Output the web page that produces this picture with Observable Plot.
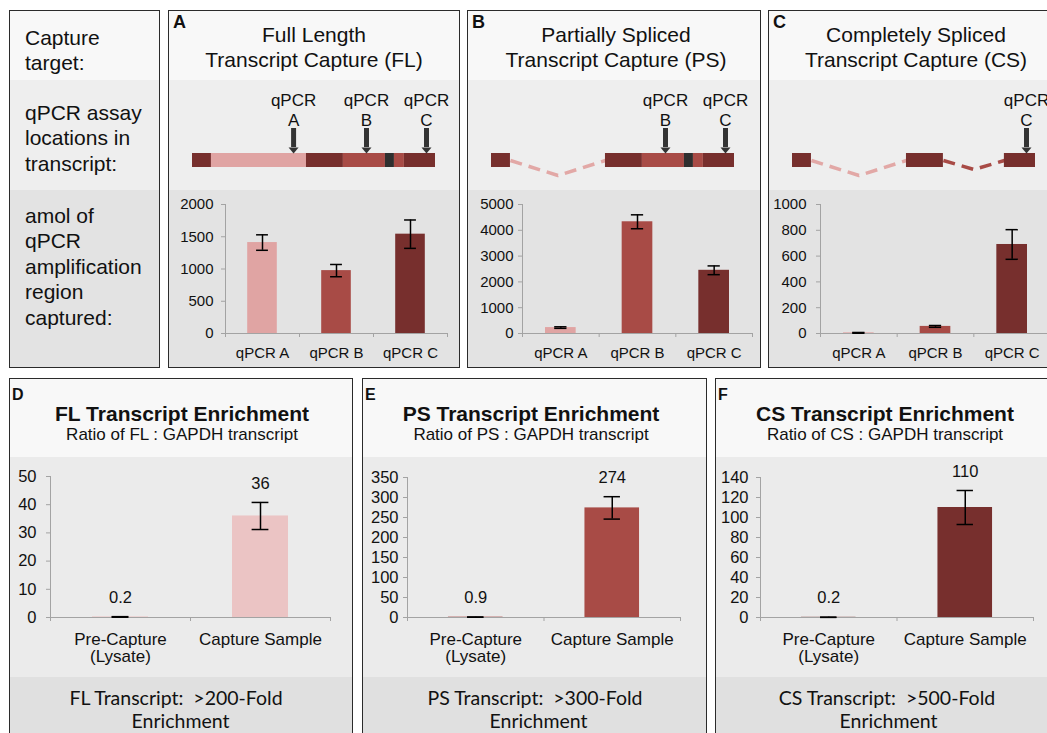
<!DOCTYPE html>
<html>
<head>
<meta charset="utf-8">
<title>Transcript capture and enrichment</title>
<script src="https://cdn.jsdelivr.net/npm/d3@7"></script>
<script src="https://cdn.jsdelivr.net/npm/@observablehq/plot@0.6"></script>
<style>
  html, body { margin: 0; padding: 0; }
  body { position: relative; width: 1047px; height: 733px; overflow: hidden; background: #fff;
         font-family: "Liberation Sans", Arial, sans-serif; color: #111; }
  .abs { position: absolute; }
  .abs svg { max-width: none !important; display: block; }
  .frame { position: absolute; box-sizing: border-box; border: 1.5px solid #2b2b2b; }
  .txt { position: absolute; white-space: pre; line-height: 1; }
</style>
</head>
<body>
<script>
// ---------------- data ----------------
// amol of each qPCR amplification region captured (mean and error)
const assays = ["qPCR A", "qPCR B", "qPCR C"];
const flAmol = [1410, 975, 1540];
const flAmolErr = [120, 95, 220];
const psAmol = [230, 4330, 2450];
const psAmolErr = [30, 270, 170];
const csAmol = [5, 55, 690];
const csAmolErr = [3, 7, 115];
const flAmolTicks = [0, 500, 1000, 1500, 2000];
const psAmolTicks = [0, 1000, 2000, 3000, 4000, 5000];
const csAmolTicks = [0, 200, 400, 600, 800, 1000];

// ratio of target transcript to GAPDH, before and after capture
const samples = ["Pre-Capture\n(Lysate)", "Capture Sample"];
const flRatio = [0.2, 36];
const flRatioErr = [0.1, 4.8];
const psRatio = [0.9, 274];
const psRatioErr = [0.3, 28];
const csRatio = [0.2, 110];
const csRatioErr = [0.1, 17];
const flRatioTicks = [0, 10, 20, 30, 40, 50];
const psRatioTicks = [0, 50, 100, 150, 200, 250, 300, 350];
const csRatioTicks = [0, 20, 40, 60, 80, 100, 120, 140];

// transcript model: regions in % of the full-length transcript
const segKind  = ["exon", "intron1", "exon", "intron2", "marker", "intron2", "exon"];
const segStart = [0, 7.8, 46.9, 62.1, 79.4, 83.1, 87.2];
const segEnd   = [7.8, 46.9, 62.1, 79.4, 83.1, 87.2, 100];
const segIntron = [0, 1, 0, 2, 2, 2, 0];          // 0 = exon
const intronIds = [1, 2];
const intronStart = [7.8, 62.1];
const intronEnd = [46.9, 87.2];
const assayIds = ["A", "B", "C"];
const assayPos = [41.6, 71.6, 96.3];

// capture targets: introns retained and assays located in them
const retainedFL = [1, 2], retainedPS = [2], retainedCS = [];
const shownFL = ["A", "B", "C"], shownPS = ["B", "C"], shownCS = ["C"];

// ---------------- styling ----------------
const SANS = '"Liberation Sans", Arial, sans-serif';
const SOFT = 'Lato, "Open Sans", sans-serif';
const PINK = "#e0a4a3", RED = "#a84b46", MAROON = "#772f2d", PALE = "#ebc4c4", MARKER = "#2f2f2f";
const AXIS = "#a3a3a3";
const SEG_COLOR = {exon: MAROON, intron1: PINK, intron2: RED, marker: MARKER};
const INTRON_COLOR = {1: "#e2a8a6", 2: RED};
const DIP = {1: 15, 2: 9};

function box(x, y, w, h, bg) {
  const d = document.createElement("div");
  d.className = "abs";
  Object.assign(d.style, {left: x + "px", top: y + "px", width: w + "px", height: h + "px", background: bg});
  document.body.appendChild(d);
  return d;
}
function frame(x, y, w, h) {
  const d = document.createElement("div");
  d.className = "frame";
  Object.assign(d.style, {left: x + "px", top: y + "px", width: w + "px", height: h + "px"});
  document.body.appendChild(d);
}
// baseline-anchored text; k = baseline offset below line centre in ems
function text(str, {x, baseline, size = 21, weight = "normal", align = "left", lh = 1.2, font = SANS, k = 0.3465}) {
  const L = lh * size;
  const d = document.createElement("div");
  d.className = "txt";
  d.textContent = str;
  Object.assign(d.style, {
    left: x + "px", top: (baseline - L / 2 - k * size) + "px",
    fontSize: size + "px", lineHeight: L + "px", fontWeight: weight, fontFamily: font,
    textAlign: align, transform: align === "center" ? "translateX(-50%)" : "none", color: "#111"
  });
  document.body.appendChild(d);
}
function place(node, x, y, w, h) {
  const d = document.createElement("div");
  d.className = "abs";
  Object.assign(d.style, {left: x + "px", top: y + "px", width: w + "px", height: h + "px"});
  d.appendChild(node);
  document.body.appendChild(d);
}

const arrowHead = {
  draw(context, size) {
    const r = Math.sqrt(size / Math.PI);
    context.moveTo(-r, -1.2 * r);
    context.lineTo(r, -1.2 * r);
    context.lineTo(0, 0);
    context.closePath();
  }
};

function transcriptDiagram(retained, shownIds, width) {
  const segs = segKind.map((kind, i) => ({kind, start: segStart[i], end: segEnd[i], intron: segIntron[i]}))
    .filter(d => d.intron === 0 || retained.includes(d.intron));
  const spliced = intronIds.filter(id => !retained.includes(id)).flatMap(id => {
    const s = intronStart[id - 1], e = intronEnd[id - 1];
    return [{id, x: s, y: 0}, {id, x: (s + e) / 2, y: -DIP[id]}, {id, x: e, y: 0}];
  });
  const shown = assayIds.map((id, i) => ({id, pos: assayPos[i]})).filter(d => shownIds.includes(d.id));
  return Plot.plot({
    width, height: 110, margin: 0,
    style: {background: "none", overflow: "visible", fontFamily: SANS, maxWidth: "none"},
    x: {domain: [0, 100], range: [24, 267], axis: null},
    y: {domain: [-30, 80], range: [110, 0], axis: null},
    color: {type: "identity"},
    marks: [
      Plot.line(spliced, {x: "x", y: "y", z: "id", stroke: d => INTRON_COLOR[d.id], strokeWidth: 3.5,
                          strokeDasharray: "12,7", strokeLinecap: "butt"}),
      Plot.rect(segs, {x1: "start", x2: "end", y1: -7, y2: 7, fill: d => SEG_COLOR[d.kind]}),
      Plot.ruleX(shown, {x: "pos", y1: 13, y2: 32, stroke: "#333", strokeWidth: 5}),
      Plot.dot(shown, {x: "pos", y: 7, r: 5, symbol: arrowHead, fill: "#333"}),
      Plot.text(shown, {x: "pos", y: 32, text: d => `qPCR\n${d.id}`, lineAnchor: "bottom", dy: -3,
                        fontSize: 17, lineHeight: 1.12, fill: "#111"})
    ]
  });
}

function barChart(o) {
  const n = o.cats.length;
  const rows = o.cats.map((cat, i) => ({i, cat, v: o.values[i], e: o.errs[i], color: o.colors[i]}));
  const yMax = o.ticks[o.ticks.length - 1];
  const marks = [
    Plot.rectY(rows, {x1: d => d.i + 0.3, x2: d => d.i + 0.7, y: "v", fill: d => d.color}),
    Plot.ruleX([0], {stroke: AXIS}),
    Plot.ruleY([0], {stroke: AXIS}),
    Plot.axisY({ticks: o.ticks, tickSize: 4, tickPadding: o.tickPad, tickFormat: d3.format("d"),
                stroke: AXIS, fill: "#111", fontSize: o.tickFont, label: null}),
    Plot.axisX({ticks: d3.range(n + 1), tickSize: 4, tickFormat: () => "", stroke: AXIS, label: null}),
    Plot.axisX({ticks: rows.map(d => d.i + 0.5), tickSize: 0, tickPadding: o.catPad,
                tickFormat: t => o.cats[Math.floor(t)], fill: "#111", fontSize: o.catFont, label: null}),
    Plot.ruleX(rows, {x: d => d.i + 0.5, y1: d => Math.max(0, d.v - d.e), y2: d => d.v + d.e, stroke: "#000", strokeWidth: 1.5}),
    Plot.ruleY(rows, {y: d => d.v + d.e, x1: d => d.i + 0.5 - o.cap, x2: d => d.i + 0.5 + o.cap, stroke: "#000", strokeWidth: 1.5}),
    Plot.ruleY(rows, {y: d => Math.max(0, d.v - d.e), x1: d => d.i + 0.5 - o.cap, x2: d => d.i + 0.5 + o.cap, stroke: "#000", strokeWidth: 1.5})
  ];
  if (o.valueLabels) {
    marks.push(Plot.text(rows, {x: d => d.i + 0.5, y: d => d.v + d.e, text: d => String(d.v), dy: o.labelDy,
                                fontSize: o.labelFont, fill: "#111"}));
  }
  return Plot.plot({
    width: o.width, height: o.height,
    marginTop: o.m[0], marginRight: o.m[1], marginBottom: o.m[2], marginLeft: o.m[3],
    style: {background: "none", overflow: "visible", fontFamily: SANS, maxWidth: "none"},
    x: {domain: [0, n]},
    y: {domain: [0, yMax]},
    color: {type: "identity"},
    marks
  });
}

// ---------------- layout ----------------
const TOP = {y0: 10, t1: 80, t2: 190, y1: 368};
const BOT = {y0: 378, t1: 457, t2: 677, y1: 748};
const panelsTop = [
  {x: 9, w: 151}, {x: 168, w: 292}, {x: 467, w: 294}, {x: 768, w: 292}
];
const panelsBot = [{x: 9, w: 344}, {x: 362, w: 345}, {x: 715, w: 340}];

// background bands
panelsTop.forEach(p => {
  box(p.x, TOP.y0, p.w, TOP.t1 - TOP.y0, "#f8f8f8");
  box(p.x, TOP.t1, p.w, TOP.t2 - TOP.t1, "#eeeeee");
  box(p.x, TOP.t2, p.w, TOP.y1 - TOP.t2, "#e3e3e3");
});
panelsBot.forEach(p => {
  box(p.x, BOT.y0, p.w, BOT.t1 - BOT.y0, "#f8f8f8");
  box(p.x, BOT.t1, p.w, BOT.t2 - BOT.t1, "#ebebeb");
  box(p.x, BOT.t2, p.w, BOT.y1 - BOT.t2, "#e0e0e0");
});

// row labels
text("Capture\ntarget:", {x: 25, baseline: 45, size: 21, lh: 25.5 / 21});
text("qPCR assay\nlocations in\ntranscript:", {x: 25, baseline: 120, size: 21, lh: 25.5 / 21});
text("amol of\nqPCR\namplification\nregion\ncaptured:", {x: 25, baseline: 223, size: 21, lh: 25.5 / 21});

// top row: capture targets
const topSpecs = [
  {p: panelsTop[1], letter: "A", title: "Full Length\nTranscript Capture (FL)", cx: 314,
   retained: retainedFL, shown: shownFL, values: flAmol, errs: flAmolErr, ticks: flAmolTicks, m: [14, 13, 35, 57], tickPad: 8},
  {p: panelsTop[2], letter: "B", title: "Partially Spliced\nTranscript Capture (PS)", cx: 616,
   retained: retainedPS, shown: shownPS, values: psAmol, errs: psAmolErr, ticks: psAmolTicks, m: [14, 9, 35, 55], tickPad: 5},
  {p: panelsTop[3], letter: "C", title: "Completely Spliced\nTranscript Capture (CS)", cx: 916,
   retained: retainedCS, shown: shownCS, values: csAmol, errs: csAmolErr, ticks: csAmolTicks, m: [14, 10, 35, 52], tickPad: 10}
];
topSpecs.forEach(s => {
  text(s.letter, {x: s.p.x + 5, baseline: 29, size: 18, weight: "bold"});
  text(s.title, {x: s.cx, baseline: 42, size: 21, lh: 25 / 21, align: "center"});
  place(transcriptDiagram(s.retained, s.shown, s.p.w), s.p.x, TOP.t1, s.p.w, TOP.t2 - TOP.t1);
  place(barChart({cats: assays, values: s.values, errs: s.errs, colors: [PINK, RED, MAROON], ticks: s.ticks,
                  width: s.p.w, height: TOP.y1 - TOP.t2, m: s.m, cap: 0.08, tickFont: 15, tickPad: s.tickPad,
                  catFont: 15, catPad: 14}), s.p.x, TOP.t2, s.p.w, TOP.y1 - TOP.t2);
});

// bottom row: enrichment
const botSpecs = [
  {p: panelsBot[0], letter: "D", title: "FL Transcript Enrichment", sub: "Ratio of FL : GAPDH transcript", cx: 182,
   foot1: "FL Transcript:  >200-Fold", f1: 176, f2: 180.5, values: flRatio, errs: flRatioErr, ticks: flRatioTicks,
   color: PALE, m: [19, 23, 60, 41], tickPad: 10},
  {p: panelsBot[1], letter: "E", title: "PS Transcript Enrichment", sub: "Ratio of PS : GAPDH transcript", cx: 531,
   foot1: "PS Transcript:  >300-Fold", f1: 535, f2: 538.5, values: psRatio, errs: psRatioErr, ticks: psRatioTicks,
   color: RED, m: [20, 27, 60, 45], tickPad: 5},
  {p: panelsBot[2], letter: "F", title: "CS Transcript Enrichment", sub: "Ratio of CS : GAPDH transcript", cx: 885,
   foot1: "CS Transcript:  >500-Fold", f1: 887, f2: 888.5, values: csRatio, errs: csRatioErr, ticks: csRatioTicks,
   color: MAROON, m: [20, 22, 60, 45], tickPad: 8}
];
botSpecs.forEach(s => {
  text(s.letter, {x: s.p.x + 3, baseline: 400, size: 16, weight: "bold"});
  text(s.title, {x: s.cx, baseline: 420.5, size: 21, weight: "bold", align: "center"});
  text(s.sub, {x: s.cx, baseline: 441, size: 17, align: "center"});
  place(barChart({cats: samples, values: s.values, errs: s.errs, colors: [s.color, s.color], ticks: s.ticks,
                  width: s.p.w, height: BOT.t2 - BOT.t1, m: s.m, cap: 0.06, tickFont: 16.5, tickPad: s.tickPad,
                  catFont: 17, catPad: 15, valueLabels: true, labelFont: 16.5, labelDy: -19}),
        s.p.x, BOT.t1, s.p.w, BOT.t2 - BOT.t1);
  text(s.foot1, {x: s.f1, baseline: 705, size: 19.5, font: SOFT, k: 0.387, align: "center"});
  text("Enrichment", {x: s.f2, baseline: 728.5, size: 19.5, font: SOFT, k: 0.387, align: "center"});
});

// panel outlines on top
panelsTop.forEach(p => frame(p.x, TOP.y0, p.w, TOP.y1 - TOP.y0));
panelsBot.forEach(p => frame(p.x, BOT.y0, p.w, BOT.y1 - BOT.y0));
</script>
</body>
</html>
